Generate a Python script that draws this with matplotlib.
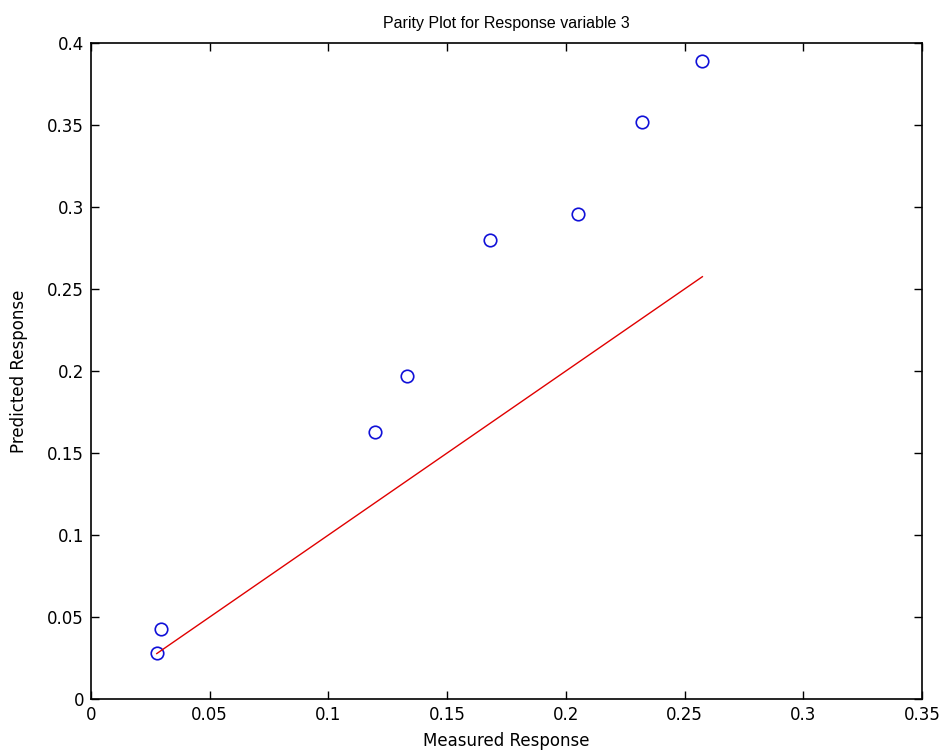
import numpy as np
import matplotlib.pyplot as plt

# measured vs predicted values for response variable 3
measured = [0.0277, 0.0293, 0.1195, 0.1333, 0.168, 0.205, 0.2322, 0.2575]
predicted = [0.0279, 0.0427, 0.163, 0.1968, 0.2797, 0.296, 0.352, 0.389]

xticks = [0, 0.05, 0.1, 0.15, 0.2, 0.25, 0.3, 0.35]
yticks = [0, 0.05, 0.1, 0.15, 0.2, 0.25, 0.3, 0.35, 0.4]
xticklabels = ['0', '0.05', '0.1', '0.15', '0.2', '0.25', '0.3', '0.35']
yticklabels = ['0', '0.05', '0.1', '0.15', '0.2', '0.25', '0.3', '0.35', '0.4']

plt.rcParams['font.family'] = ['DejaVu Sans']

fig = plt.figure(figsize=(9.41, 7.53), dpi=100)
ax = fig.add_axes([0.0967, 0.0717, 0.8831, 0.8712])

ax.plot(measured, predicted, 'o', mfc='none', mec='#1010d8', ms=9, mew=1.2)
lims = [min(measured), max(measured)]
ax.plot(lims, lims, '-', color='#e00000', lw=1)

ax.set_xlim(0, 0.35)
ax.set_ylim(0, 0.4)
ax.set_xticks(xticks)
ax.set_yticks(yticks)
ax.set_xticklabels(xticklabels)
ax.set_yticklabels(yticklabels)
ax.tick_params(direction='in', length=6, width=1, top=True, right=True, labelsize=12, pad=5)
for s in ax.spines.values():
    s.set_linewidth(1.2)

ax.set_xlabel('Measured Response', fontsize=12, labelpad=6)
ax.set_ylabel('Predicted Response', fontsize=12, labelpad=14)
ax.set_title('Parity Plot for Response variable 3', pad=11,
             family=['Liberation Sans'], fontsize=11.5)

fig.savefig('out.png', dpi=100)
